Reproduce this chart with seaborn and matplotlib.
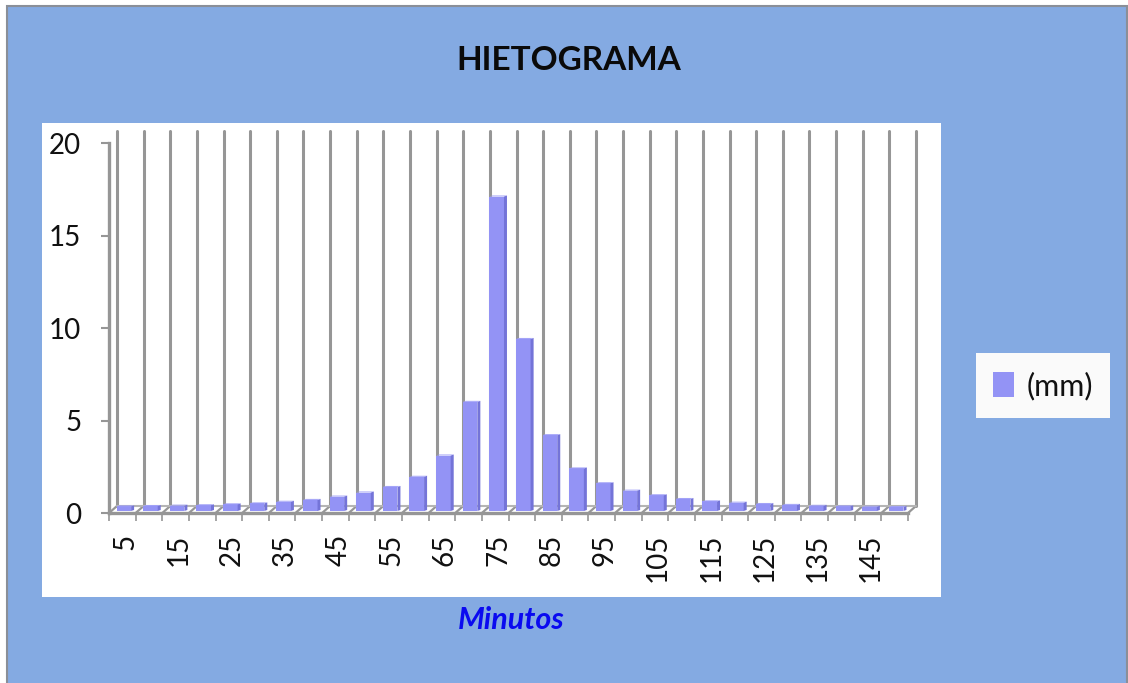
import matplotlib
matplotlib.use("Agg")
import matplotlib.pyplot as plt
import seaborn as sns
import pandas as pd
from matplotlib.patches import Polygon, Rectangle
from matplotlib.transforms import IdentityTransform, ScaledTranslation

minutos = [5, 10, 15, 20, 25, 30, 35, 40, 45, 50, 55, 60, 65, 70, 75,
           80, 85, 90, 95, 100, 105, 110, 115, 120, 125, 130, 135, 140, 145, 150]
lluvia = [0.25, 0.27, 0.29, 0.31, 0.36, 0.41, 0.5, 0.6, 0.78, 1.0, 1.3, 1.85, 3.0, 5.9, 17.0,
          9.3, 4.1, 2.3, 1.5, 1.1, 0.85, 0.65, 0.52, 0.45, 0.38, 0.33, 0.28, 0.25, 0.23, 0.22]
titulo = "HIETOGRAMA"
eje_x = "Minutos"
serie = "(mm)"
y_ticks = [0, 5, 10, 15, 20]

W, H = 1128, 683
FONDO = "#84AAE2"
BARRA = "#9393F5"
LADO = "#7474D8"
TECHO = "#A0A0F7"
GRIS = "#969696"

sns.set_theme(style="white")
plt.rcParams["font.family"] = ["Lato", "DejaVu Sans"]

fig = plt.figure(figsize=(W / 100, H / 100), dpi=100, facecolor="white")


def caja(x0, y0, x1, y1, **kw):
    # rectangle given in image pixels, y going down
    r = Rectangle((x0 / W, 1 - y1 / H), (x1 - x0) / W, (y1 - y0) / H,
                  transform=fig.transFigure, zorder=-5, **kw)
    fig.add_artist(r)


caja(7, 6, W - 1, H + 5, facecolor=FONDO, edgecolor="#8A8F98", linewidth=1.5)
caja(42, 123, 941, 597, facecolor="white", edgecolor="none")
caja(976, 353, 1110, 418, facecolor="#FAFAFA", edgecolor="none")

ax = fig.add_axes([109 / W, 1 - 513 / H, 799 / W, 370 / H])
ax.patch.set_alpha(0)

df = pd.DataFrame({"minutos": minutos, "lluvia": lluvia})
sns.barplot(data=df, x="minutos", y="lluvia", color=BARRA, saturation=1,
            width=0.66, ax=ax, label=serie, legend=False, linewidth=0)
ax.set_ylim(0, 20)
ax.set_xlim(-0.5, len(minutos) - 0.5)

# pseudo 3D depth, in pixels
DX, DY = 8, 7
BX, BY = 3, 2
SIDE = 3

to_px = ax.transData.transform
px = IdentityTransform()
edges = [i - 0.5 for i in range(len(minutos) + 1)]

for e in edges:
    x0, y0 = to_px((e, 0))
    _, y1 = to_px((e, 20))
    # back wall line and floor diagonal
    ax.add_line(plt.Line2D([x0 + DX, x0 + DX], [y0 + DY, y1 + 12], transform=px, color=GRIS,
                           lw=2.2, clip_on=False, zorder=0.5))
    ax.add_line(plt.Line2D([x0, x0 + DX], [y0, y0 + DY], transform=px, color=GRIS,
                           lw=1.6, clip_on=False, zorder=0.5))

x0, y0 = to_px((edges[0], 0))
x1, _ = to_px((edges[-1], 0))
ax.add_line(plt.Line2D([x0 + DX, x1 + DX], [y0 + DY, y0 + DY], transform=px, color="#B5B5B5",
                       lw=1.5, clip_on=False, zorder=0.5))

# shift bars to mid depth and add side and top faces
shift = ScaledTranslation(BX / 100, BY / 100, fig.dpi_scale_trans)
for bar in ax.patches:
    xa, ya = to_px((bar.get_x(), 0))
    xb, yb = to_px((bar.get_x() + bar.get_width(), bar.get_height()))
    bar.set_transform(ax.transData + shift)
    bar.set_zorder(3)
    bar.set_clip_on(False)
    xa, xb, ya, yb = xa + BX, xb + BX - SIDE, ya + BY, yb + BY
    bar.set_width(bar.get_width() * (xb - xa) / (xb + SIDE - xa))
    ax.add_patch(Polygon([(xb, ya), (xb + SIDE, ya + 1), (xb + SIDE, yb + 1), (xb, yb)], transform=px,
                         facecolor=LADO, edgecolor="none", clip_on=False, zorder=3))
    ax.add_patch(Polygon([(xa, yb), (xa + SIDE, yb + 1), (xb + SIDE, yb + 1), (xb, yb)], transform=px,
                         facecolor=TECHO, edgecolor="none", clip_on=False, zorder=3))

sns.despine(ax=ax, top=True, right=True)
for s in ["left", "bottom"]:
    ax.spines[s].set_color(GRIS)
    ax.spines[s].set_linewidth(2.4)

ax.set_yticks(y_ticks)
ax.set_xticks(range(len(minutos)))
ax.set_xticklabels([str(m) if i % 2 == 0 else "" for i, m in enumerate(minutos)], rotation=90)
ax.set_xticks(edges, minor=True)
ax.tick_params(axis="x", which="major", length=0, labelsize=20, pad=15, colors="#111111")
ax.tick_params(axis="x", which="minor", length=6, width=1.2, color=GRIS, bottom=True)
ax.tick_params(axis="y", length=6, width=1.5, color=GRIS, labelsize=20, pad=14, labelcolor="#111111", left=True)
ax.set_xlabel("")
ax.set_ylabel("")

# rotated labels sit a bit right of the category centre
nudge = ScaledTranslation(3 / 100, 0, fig.dpi_scale_trans)
for t in ax.get_xticklabels():
    t.set_transform(t.get_transform() + nudge)

fig.text(569 / W, 1 - 60 / H, titulo, ha="center", va="center", fontsize=24, fontweight="bold", color="#0A0A0A")
fig.text(511 / W, 1 - 620 / H, eje_x, ha="center", va="center", fontsize=22, fontweight="bold",
         fontstyle="italic", color="#0A0AF0")

handles, labels = ax.get_legend_handles_labels()
leg = fig.legend(handles[:1], labels[:1], loc="center", bbox_to_anchor=(1043 / W, 1 - 386 / H), frameon=False,
                 fontsize=22, handlelength=0.7, handleheight=0.9, handletextpad=0.4, labelcolor="#111111")

fig.savefig("out.png", dpi=100, facecolor=fig.get_facecolor())
